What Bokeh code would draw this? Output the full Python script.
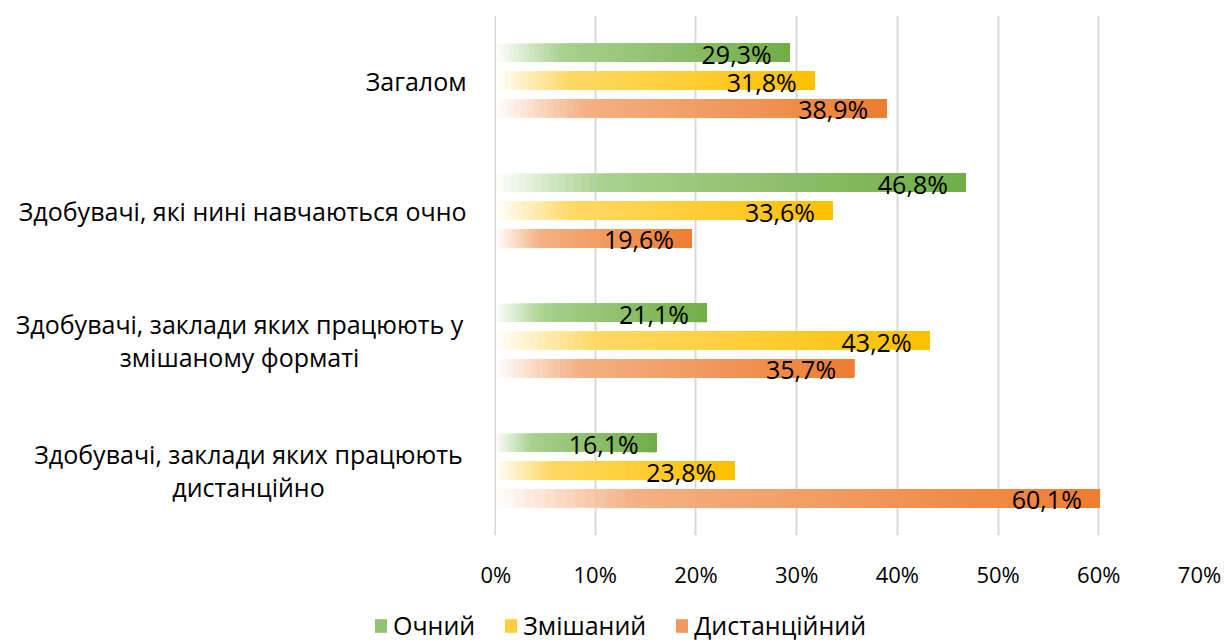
from bokeh.plotting import figure
from bokeh.layouts import row, column
from bokeh.models import (Range1d, FixedTicker, Span, Legend, LegendItem,
                          ColumnDataSource)
from bokeh.core.properties import value
from bokeh.embed import file_html
from bokeh.resources import INLINE

# ---------------- data ----------------
categories = [
    "Загалом",
    "Здобувачі, які нині навчаються очно",
    "Здобувачі, заклади яких працюють у\nзмішаному форматі",
    "Здобувачі, заклади яких працюють\nдистанційно",
]
series_names = ["Очний", "Змішаний", "Дистанційний"]
ochnyi = [29.3, 46.8, 21.1, 16.1]
zmishanyi = [31.8, 33.6, 43.2, 23.8]
dystantsiinyi = [38.9, 19.6, 35.7, 60.1]
x_ticks = [0, 10, 20, 30, 40, 50, 60, 70]
x_tick_labels = ["0%", "10%", "20%", "30%", "40%", "50%", "60%", "70%"]

series_values = [ochnyi, zmishanyi, dystantsiinyi]
full_colors = [(112, 173, 71), (255, 192, 0), (237, 125, 49)]
light_colors = [(169, 209, 142), (255, 217, 102), (244, 177, 131)]
bar_offsets = [-0.212, 0.0, 0.215]
bar_h = 0.14
FONT = "Open Sans"

W, H1, H2 = 1222, 600, 43
LAB_W = 480
TOP, BOT = 15, H1 - 535

y_range = Range1d(4, 0)

# ---------------- category label panel ----------------
pl = figure(width=LAB_W, height=H1, output_backend="svg", toolbar_location=None,
            x_range=Range1d(0, LAB_W), y_range=y_range,
            min_border_left=0, min_border_right=0, min_border_top=TOP,
            min_border_bottom=BOT)
pl.axis.visible = False
pl.grid.visible = False
pl.outline_line_color = None
# (index, anchor x in panel pixels, alignment)
label_layout = [(0, 466, "right"), (1, 466, "right"), (2, 239, "center"), (3, 248, "center")]
for al in ("right", "center"):
    idx = [g for g, _, a in label_layout if a == al]
    xs = [x for _, x, a in label_layout if a == al]
    src = ColumnDataSource(dict(x=xs, y=[g + 0.5 for g in idx],
                                t=[categories[g] for g in idx]))
    pl.text(x="x", y="y", text="t", source=src, text_align=al,
            text_baseline="middle", text_font=value(FONT), text_font_size="25px",
            text_color="#000000", text_line_height=0.97)

# ---------------- main chart ----------------
p = figure(width=W - LAB_W, height=H1, output_backend="svg", toolbar_location=None,
           x_range=Range1d(0, 70), y_range=y_range,
           min_border_left=494 - LAB_W, min_border_right=W - 1199,
           min_border_top=TOP, min_border_bottom=BOT)
p.outline_line_color = None
p.background_fill_color = "white"
p.border_fill_color = "white"

p.xgrid.ticker = FixedTicker(ticks=x_ticks)
p.xgrid.grid_line_color = "#d9d9d9"
p.xgrid.grid_line_width = 2
p.ygrid.grid_line_color = None
p.xaxis.ticker = FixedTicker(ticks=x_ticks)
p.xaxis.major_label_overrides = {t: l for t, l in zip(x_ticks, x_tick_labels)}
p.xaxis.axis_line_color = None
p.xaxis.major_tick_line_color = None
p.xaxis.minor_tick_line_color = None
p.xaxis.major_label_text_font = FONT
p.xaxis.major_label_text_font_size = "22px"
p.xaxis.major_label_text_color = "#000000"
p.xaxis.major_label_standoff = 17
p.yaxis.visible = False

p.add_layout(Span(location=0, dimension="height", line_color="#d9d9d9",
                  line_width=3))

# gradient bars: overlapping segments from white to full colour
N = 60


def grad_color(t, light, full):
    t0 = 0.23
    if t < t0:
        u = t / t0
        a, b = (255, 255, 255), light
    else:
        u = (t - t0) / (1 - t0)
        a, b = light, full
    c = [int(round(a[i] + (b[i] - a[i]) * u)) for i in range(3)]
    return "#%02x%02x%02x" % tuple(c)


bar_sources = []
for s, vals in enumerate(series_values):
    left, right, top, bottom, colors = [], [], [], [], []
    for g, v in enumerate(vals):
        yc = g + 0.5 + bar_offsets[s]
        for k in range(N):
            t = k / N
            left.append(v * t)
            right.append(v)
            top.append(yc - bar_h / 2)
            bottom.append(yc + bar_h / 2)
            colors.append(grad_color((k + 0.5) / N, light_colors[s], full_colors[s]))
    src = ColumnDataSource(dict(left=left, right=right, top=top, bottom=bottom,
                                color=colors))
    bar_sources.append(src)
    p.quad(left="left", right="right", top="top", bottom="bottom",
           fill_color="color", line_color=None, source=src)

    lsrc = ColumnDataSource(dict(
        x=vals,
        y=[g + 0.5 + bar_offsets[s] for g in range(len(vals))],
        t=[("%.1f" % v).replace(".", ",") + "%" for v in vals]))
    p.text(x="x", y="y", text="t", source=lsrc, text_align="right",
           text_baseline="middle", x_offset=-18, y_offset=1,
           text_font=value(FONT), text_font_size="25px", text_color="#000000")

# ---------------- legend panel ----------------
pg = figure(width=W, height=H2, output_backend="svg", toolbar_location=None,
            x_range=Range1d(0, 1), y_range=Range1d(0, 1),
            min_border_left=0, min_border_right=0, min_border_top=0,
            min_border_bottom=0)
pg.axis.visible = False
pg.grid.visible = False
pg.outline_line_color = None
items = []
for s in range(3):
    r = pg.quad(left="left", right="right", top="top", bottom="bottom",
                fill_color="color", line_color=None, source=bar_sources[s],
                visible=False)
    items.append(LegendItem(label=series_names[s], renderers=[r], index=int(N * 0.55)))
legend = Legend(items=items, orientation="horizontal", location=(373, 1),
                label_text_font=FONT, label_text_font_size="25px",
                label_text_color="#000000", glyph_width=15, glyph_height=17,
                label_standoff=5, spacing=28, border_line_color=None,
                background_fill_alpha=0, padding=0, margin=0)
pg.add_layout(legend, "center")

layout = column(row(pl, p, spacing=0), pg, spacing=0)
open("out.html", "w").write(file_html(layout, INLINE))
